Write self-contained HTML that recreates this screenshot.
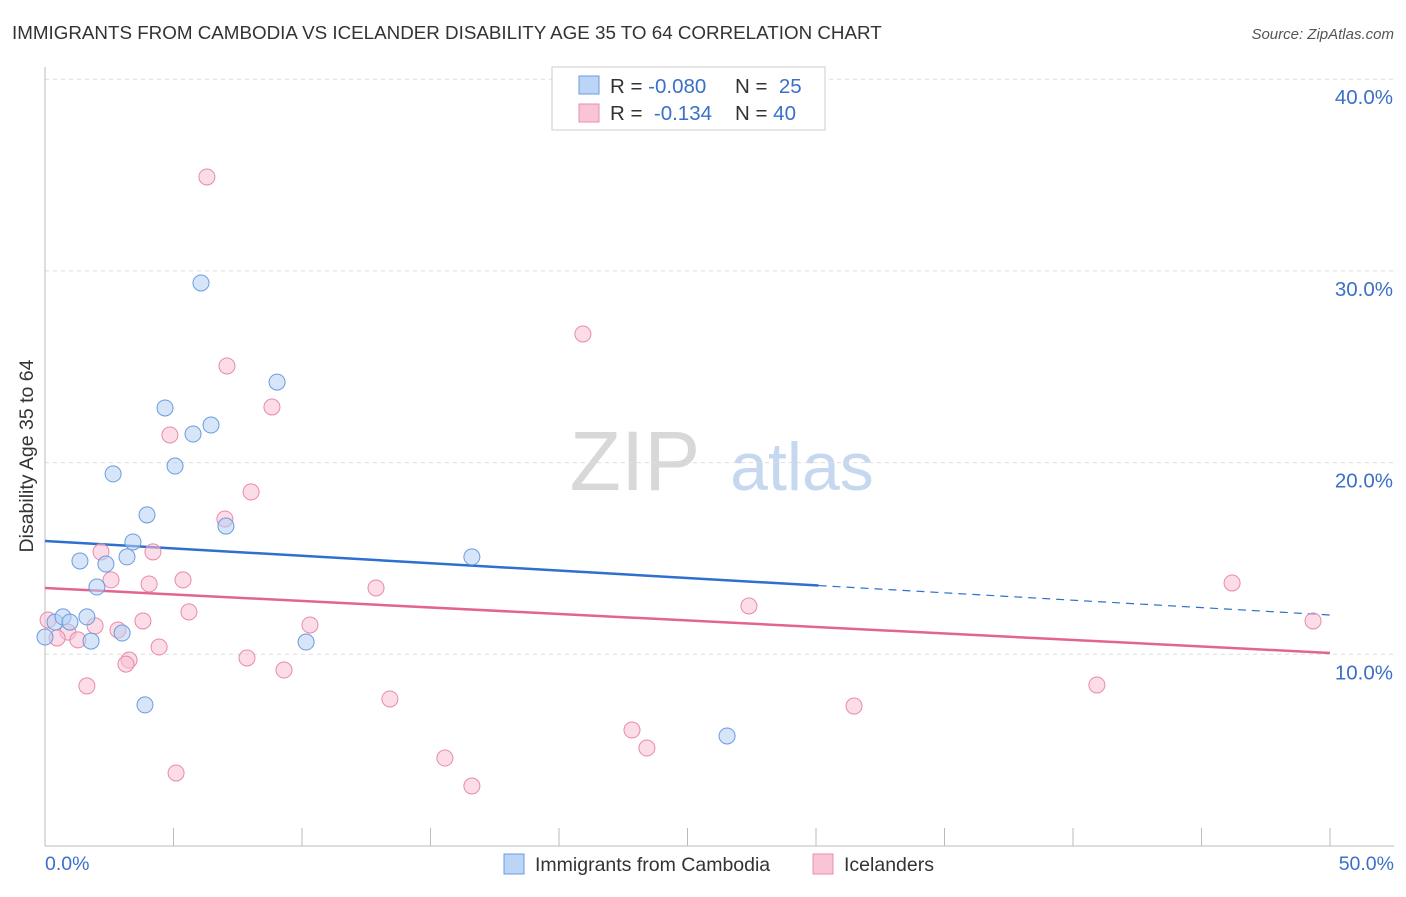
<!DOCTYPE html>
<html><head><meta charset="utf-8"><style>
body{margin:0;background:#fff;font-family:"Liberation Sans",sans-serif;}
svg text{font-family:"Liberation Sans",sans-serif;}
</style></head><body>
<svg id="chart" width="1406" height="892">
<text x="12" y="39" font-size="18.8" fill="#333">IMMIGRANTS FROM CAMBODIA VS ICELANDER DISABILITY AGE 35 TO 64 CORRELATION CHART</text>
<text x="1394" y="39" font-size="15" fill="#555" font-style="italic" text-anchor="end">Source: ZipAtlas.com</text>
<g>
<text x="635" y="490" font-size="84" fill="#d8d8d8" font-family="Liberation Serif" text-anchor="middle">ZIP</text>
<text x="802" y="490" font-size="68" fill="#c6d8ef" text-anchor="middle">atlas</text>
</g>
<g id="grid"></g>
<g id="axes"></g>
<g id="lines"></g>
<g id="points"></g>
<text transform="translate(33,456) rotate(-90)" font-size="19.5" fill="#333" text-anchor="middle">Disability Age 35 to 64</text>
<g>
<rect x="552" y="67" width="273" height="63" fill="#fff" stroke="#ccc"/>
<rect x="579" y="76" width="20" height="18" fill="#bcd4f5" stroke="#6a9be0"/>
<rect x="579" y="104" width="20" height="18" fill="#f9c5d6" stroke="#ea8fb0"/>
<text x="610" y="93" font-size="20.5" fill="#333">R = <tspan fill="#3a70c8">-0.080</tspan><tspan x="735">N = </tspan><tspan fill="#3a70c8">&#160;25</tspan></text>
<text x="610" y="120" font-size="20.5" fill="#333">R = <tspan fill="#3a70c8">&#160;-0.134</tspan><tspan x="735">N = </tspan><tspan fill="#3a70c8">40</tspan></text>
</g>
<g>
<rect x="504" y="854" width="20" height="20" fill="#bcd4f5" stroke="#6a9be0"/>
<text x="535" y="871" font-size="19.5" fill="#333">Immigrants from Cambodia</text>
<rect x="813" y="854" width="20" height="20" fill="#f9c5d6" stroke="#ea8fb0"/>
<text x="844" y="871" font-size="19.5" fill="#333">Icelanders</text>
</g>
</svg>
<script>
const yTicks=[10,20,30,40];
const yTickLabels=["10.0%","20.0%","30.0%","40.0%"];
const xTicks=[0,5,10,15,20,25,30,35,40,45,50];
const blueX=[0,0.39,0.7,0.97,1.63,1.79,1.36,2.02,2.37,2.65,3.0,3.19,3.42,3.97,3.89,4.67,5.06,5.76,6.07,6.46,7.04,9.03,10.16,16.61,26.54];
const blueY=[10.9,11.68,11.95,11.68,11.95,10.69,14.87,13.51,14.71,19.41,11.11,15.08,15.86,17.27,7.36,22.85,19.82,21.49,29.37,21.96,16.69,24.2,10.64,15.08,5.74];
const pinkX=[6.3,20.93,7.08,8.83,4.86,8.02,7.0,2.18,4.2,2.57,4.05,5.37,12.88,46.19,5.6,27.39,49.34,3.81,1.95,2.84,10.31,0.89,1.28,0.47,4.44,3.27,3.15,7.86,9.3,1.63,40.93,13.42,31.48,22.84,23.42,15.56,5.1,16.61,0.12];
const pinkY=[34.9,26.71,25.04,22.9,21.44,18.47,17.06,15.34,15.34,13.88,13.67,13.88,13.46,13.72,12.21,12.52,11.74,11.74,11.48,11.27,11.53,11.16,10.75,10.85,10.38,9.7,9.49,9.81,9.18,8.35,8.4,7.67,7.3,6.05,5.11,4.59,3.81,3.13,11.79];
const blueTrend=[15.91,12.05];
const blueSolidEnd=30.1;
const pinkTrend=[13.46,10.07];
const NS="http://www.w3.org/2000/svg";
const xs=v=>45+v*25.7, ys=v=>846-v*19.17;
function mk(p,t,a){const e=document.createElementNS(NS,t);for(const k in a)e.setAttribute(k,a[k]);p.appendChild(e);return e;}
const grid=document.getElementById('grid'),axes=document.getElementById('axes'),lines=document.getElementById('lines'),pts=document.getElementById('points');
yTicks.forEach((t,i)=>{
 const g=mk(grid,'line',{x1:45,x2:1394,y1:ys(t),y2:ys(t),stroke:'#ddd','stroke-dasharray':'4,4'});
 
 
 const l=mk(axes,'text',{x:1393,y:ys(t)+25,'font-size':20.5,fill:'#3a70c8','text-anchor':'end'});
 l.textContent=yTickLabels[i];
 
 
});
mk(axes,'line',{x1:45,x2:45,y1:67,y2:846,stroke:'#bbb'});
mk(axes,'line',{x1:45,x2:1394,y1:846,y2:846,stroke:'#bbb'});
xTicks.forEach(t=>{
 const e=mk(axes,'line',{x1:xs(t),x2:xs(t),y1:828,y2:846,stroke:'#bbb'});
 
 
});
const xl0=mk(axes,'text',{x:45,y:870,'font-size':19.5,fill:'#3a70c8'});xl0.textContent='0.0%';


const xl1=mk(axes,'text',{x:1394,y:870,'font-size':19.5,fill:'#3a70c8','text-anchor':'end'});xl1.textContent='50.0%';


function drawPts(X,Y,fill,stroke,name){X.forEach((x,i)=>{
 const c=mk(pts,'circle',{cx:xs(x),cy:ys(Y[i]),r:8,fill:fill,'fill-opacity':0.55,stroke:stroke,'stroke-width':1});
 
 
});}
drawPts(pinkX,pinkY,'#f8c0d3','#e88aab','icelander-point');
drawPts(blueX,blueY,'#b7cff2','#6a9be0','cambodia-point');
const bAt=x=>blueTrend[0]+(blueTrend[1]-blueTrend[0])*x/50;
const bl=mk(lines,'line',{x1:xs(0),y1:ys(bAt(0)),x2:xs(blueSolidEnd),y2:ys(bAt(blueSolidEnd)),stroke:'#2f6fd0','stroke-width':2.5});


const bd=mk(lines,'line',{x1:xs(blueSolidEnd),y1:ys(bAt(blueSolidEnd)),x2:xs(50),y2:ys(bAt(50)),stroke:'#2f6fd0','stroke-width':1.2,'stroke-dasharray':'8,6'});


const pl=mk(lines,'line',{x1:xs(0),y1:ys(pinkTrend[0]),x2:xs(50),y2:ys(pinkTrend[1]),stroke:'#e3648f','stroke-width':2.5});


</script>
</body></html>
